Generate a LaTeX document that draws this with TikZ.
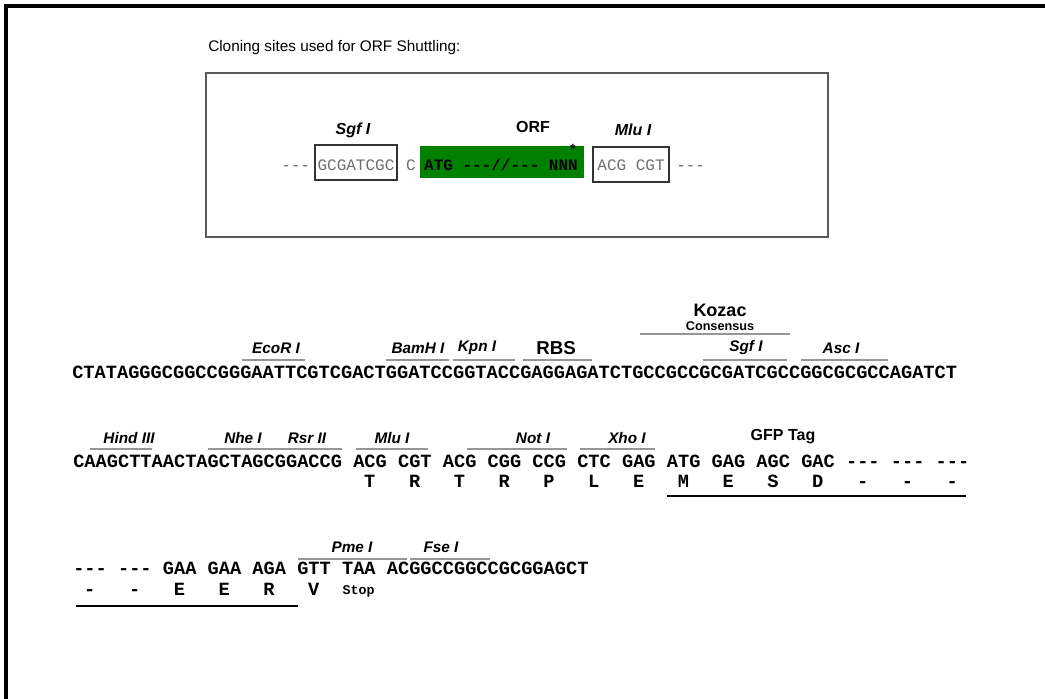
\documentclass[tikz,border=0pt]{standalone}
\usepackage{fontspec}
\setmainfont{Liberation Sans}
\newfontfamily\seqfont{Liberation Mono}[Ligatures=TeXOff]
\definecolor{orfgreen}{RGB}{0,128,0}
\definecolor{sitegray}{RGB}{150,150,150}
\definecolor{basegray}{RGB}{110,110,110}
\definecolor{framegray}{RGB}{90,90,90}
\begin{document}
\begin{tikzpicture}[x=0.75pt,y=-0.75pt,
  enz/.style={font=\fontsize{11.5}{13}\selectfont\bfseries\itshape, inner sep=0pt},
  tag/.style={font=\fontsize{11.5}{13}\selectfont\bfseries, inner sep=0pt},
  seq/.style={font=\fontsize{14}{16}\selectfont\seqfont\bfseries, inner sep=0pt, anchor=base west},
  aa/.style={font=\fontsize{14}{16}\selectfont\seqfont\bfseries, inner sep=0pt, anchor=base},
  orfseq/.style={font=\fontsize{12}{14}\selectfont\seqfont, inner sep=0pt, anchor=base, text=basegray},
  siteline/.style={draw=sitegray, line width=1.5pt},
  tagline/.style={draw=black, line width=2.2pt}]
\useasboundingbox (0,0) rectangle (1045,699);

% outer frame (left and top edges)
\draw[line width=2.4pt] (6,699) -- (6,6) -- (1045,6);

% ---------------- ORF shuttling panel ----------------
\node[font=\fontsize{11.5}{13}\selectfont, anchor=west, inner sep=0pt] (title) at (208,48)
  {Cloning sites used for ORF Shuttling:};
\draw[draw=framegray, line width=1.6pt] (206,73) rectangle (828,237);

\node[orfseq, anchor=base west] (ldash) at (281,170) {---};
\draw[line width=0.9pt, draw=black!80] (315,145) rectangle (397,180);
\node[orfseq] (sgfsite) at (356,170) {GCGATCGC};
\node[orfseq] (cbase) at (411,170) {C};
\fill[orfgreen] (420,146) rectangle (584,178);
\node[orfseq, text=black, font=\fontsize{12}{14}\selectfont\seqfont\bfseries] (orf) at (501,170) {ATG ---//--- NNN};
\node[font=\fontsize{10}{10}\selectfont\bfseries, inner sep=0pt] (stopmark) at (573,149) {*};
\draw[line width=0.9pt, draw=black!80] (593,147) rectangle (669,182);
\node[orfseq] (mlusite) at (631,170) {ACG CGT};
\node[orfseq, anchor=base west] (rdash) at (676,170) {---};

\node[enz, font=\fontsize{12}{14}\selectfont\bfseries\itshape] (sgfA) at (353,130) {Sgf I};
\node[tag, font=\fontsize{12}{14}\selectfont\bfseries] (orflbl) at (533,127) {ORF};
\node[enz, font=\fontsize{12}{14}\selectfont\bfseries\itshape] (mluA) at (633,130) {Mlu I};

% ---------------- sequence line 1 ----------------
\node[seq] (seqA) at (72,378)
  {CTATAGGGCGGCCGGGAATTCGTCGACTGGATCCGGTACCGAGGAGATCTGCCGCCGCGATCGCCGGCGCGCCAGATCT};
\draw[siteline] (242,360) -- (305,360);
\node[enz] (ecor) at (276,348) {EcoR I};
\draw[siteline] (386,360) -- (449,360);
\node[enz] (bamh) at (418,348) {BamH I};
\draw[siteline] (453,360) -- (515,360);
\node[enz] (kpn) at (477,348) {Kpn I};
\draw[siteline] (523,360) -- (592,360);
\node[font=\fontsize{14}{16}\selectfont\bfseries, inner sep=0pt] (rbs) at (556,348) {RBS};
\draw[siteline] (640,334) -- (790,334);
\node[font=\fontsize{13.5}{15}\selectfont\bfseries, inner sep=0pt] (kozac) at (720,310) {Kozac};
\node[font=\fontsize{9.5}{11}\selectfont\bfseries, inner sep=0pt] (consensus) at (720,326) {Consensus};
\draw[siteline] (703,360) -- (787,360);
\node[enz] (sgfB) at (746,348) {Sgf I};
\draw[siteline] (801,360) -- (888,360);
\node[enz] (asc) at (841,348) {Asc I};

% ---------------- sequence line 2 ----------------
\node[seq] (seqB) at (73,467)
  {CAAGCTTAACTAGCTAGCGGACCG ACG CGT ACG CGG CCG CTC GAG ATG GAG AGC GAC --- --- ---};
\draw[siteline] (90,449) -- (152,449);
\node[enz] (hind) at (129,438) {Hind III};
\draw[siteline] (208,449) -- (278,449);
\node[enz] (nhe) at (243,438) {Nhe I};
\draw[siteline] (268,449) -- (342,449);
\node[enz] (rsr) at (307,438) {Rsr II};
\draw[siteline] (356,449) -- (428,449);
\node[enz] (mluB) at (392,438) {Mlu I};
\draw[siteline] (467,449) -- (567,449);
\node[enz] (notI) at (533,438) {Not I};
\draw[siteline] (580,449) -- (655,449);
\node[enz] (xho) at (627,438) {Xho I};
\node[tag, font=\fontsize{12}{14}\selectfont\bfseries] (gfp) at (783,437) {GFP Tag};
\foreach \a [count=\k from 0] in {T,R,T,R,P,L,E,M,E,S,D,-,-,-}
  \node[aa] (aaB\k) at ({73+(26.5+4*\k)*11.2},487) {\a};
\draw[tagline] (667,496) -- (966,496);

% ---------------- sequence line 3 ----------------
\node[seq] (seqC) at (73,574)
  {--- --- GAA GAA AGA GTT TAA ACGGCCGGCCGCGGAGCT};
\draw[siteline] (298,559) -- (407,559);
\node[enz] (pme) at (352,547) {Pme I};
\draw[siteline] (410,559) -- (490,559);
\node[enz] (fse) at (441,547) {Fse I};
\foreach \a [count=\k from 0] in {-,-,E,E,R,V}
  \node[aa] (aaC\k) at ({73+(1.5+4*\k)*11.2},595) {\a};
\node[aa, font=\fontsize{10}{12}\selectfont\seqfont\bfseries] (stop) at ({73+25.5*11.2},594) {Stop};
\draw[tagline] (76,606) -- (298,606);
\end{tikzpicture}
\end{document}
